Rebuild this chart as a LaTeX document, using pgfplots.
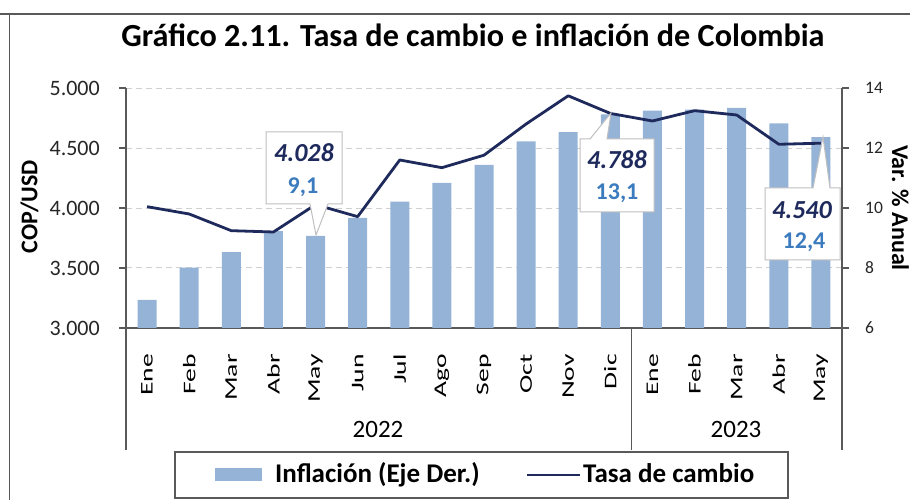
\documentclass[border=0pt]{standalone}
\usepackage{fontspec}
\setmainfont{Carlito}
\usepackage{pgfplots}
\pgfplotsset{compat=1.18}
\usepackage{graphicx}

\definecolor{barblue}{HTML}{95B3D7}
\definecolor{navy}{HTML}{1F2A5C}
\definecolor{axgray}{HTML}{595959}
\definecolor{lblblue}{HTML}{3B7BBE}
\definecolor{gridgray}{HTML}{D0D0D0}
\definecolor{boxgray}{HTML}{BFBFBF}

\newcommand{\mo}[1]{\scalebox{1.55}[1]{#1}}

\begin{document}
\begin{tikzpicture}[x=1pt,y=1pt]
\useasboundingbox (0,0) rectangle (910,500);
% frame
\draw[axgray, line width=1.5pt] (0,486) -- (910,486);
\draw[axgray, line width=1.5pt] (9.3,486) -- (9.3,0);
\node[font=\fontsize{32.2}{37}\selectfont\bfseries, anchor=base, inner sep=0pt] at (473,453) {Gráfico 2.11. Tasa de cambio e inflación de Colombia};

% bars: inflation (right axis)
\begin{axis}[
  at={(126pt,172pt)}, anchor=south west, scale only axis,
  width=716pt, height=240pt,
  xmin=-0.5, xmax=16.5, ymin=6, ymax=14,
  axis y line*=right, axis x line*=bottom,
  axis line style={axgray, line width=1.2pt},
  ytick={6,8,10,12,14},
  xtick={0,...,16},
  xticklabels={\mo{Ene},\mo{Feb},\mo{Mar},\mo{Abr},\mo{May},\mo{Jun},\mo{Jul},\mo{Ago},\mo{Sep},\mo{Oct},\mo{Nov},\mo{Dic},\mo{Ene},\mo{Feb},\mo{Mar},\mo{Abr},\mo{May}},
  xticklabel style={yshift=-19pt, rotate=90, anchor=east, inner sep=0pt, font=\fontsize{17.8}{20}\selectfont, text=black},
  xtick style={draw=none},
  ytick style={axgray, line width=1.2pt},
  tick align=outside, major tick length=7pt,
  yticklabel style={anchor=west, inner sep=0pt, xshift=16pt, font=\fontsize{17.5}{20}\selectfont, text=black!85},
  /pgf/number format/assume math mode=true,
  ymajorgrids, grid style={gridgray, dashed, line width=1pt, dash pattern=on 6pt off 4pt},
  ybar, bar width=19pt,
  clip=false,
]
\addplot[fill=barblue, draw=none] coordinates {
(0,6.94) (1,8.01) (2,8.53) (3,9.23) (4,9.07) (5,9.67) (6,10.21) (7,10.84) (8,11.44) (9,12.22) (10,12.53) (11,13.12) (12,13.25) (13,13.28) (14,13.34) (15,12.82) (16,12.36)};
\draw[axgray, line width=1.2pt] (axis cs:-0.5,6) -- ++(0pt,-122pt);
\draw[axgray, line width=1.2pt] (axis cs:11.5,6) -- ++(0pt,-122pt);
\draw[axgray, line width=1.2pt] (axis cs:16.5,6) -- ++(0pt,-122pt);
\end{axis}

% line: exchange rate (left axis)
\begin{axis}[
  at={(126pt,172pt)}, anchor=south west, scale only axis,
  width=716pt, height=240pt,
  xmin=-0.5, xmax=16.5, ymin=3000, ymax=5000,
  axis y line*=left, axis x line=none,
  axis line style={axgray, line width=1.2pt},
  ytick={3000,3500,4000,4500,5000},
  scaled y ticks=false,
  yticklabel={\pgfmathprintnumber[fixed,1000 sep={.}]{\tick}},
  ytick style={axgray, line width=1.2pt},
  tick align=outside, major tick length=7pt,
  yticklabel style={anchor=east, inner sep=0pt, xshift=-19pt, font=\fontsize{22}{26}\selectfont, text=black!85},
  /pgf/number format/assume math mode=true,
  clip=false,
]
\addplot[navy, line width=2.8pt, line join=round] coordinates {
(0,4011) (1,3950) (2,3811) (3,3800) (4,4028) (5,3928) (6,4400) (7,4336) (8,4440) (9,4700) (10,4935) (11,4788) (12,4725) (13,4811) (14,4775) (15,4531) (16,4540)};
\end{axis}

% axis titles
\node[rotate=90, font=\fontsize{24}{28}\selectfont\bfseries] at (29.5,293) {COP/USD};
\node[rotate=-90, font=\fontsize{24}{28}\selectfont\bfseries] at (900.5,292) {Var. \% Anual};

% years
\node[font=\fontsize{25}{30}\selectfont, anchor=base, inner sep=0pt] at (378,62) {2022};
\node[font=\fontsize{25}{30}\selectfont, anchor=base, inner sep=0pt] at (736,62) {2023};

% callouts
\filldraw[fill=white, draw=boxgray, line width=1pt] (266,296) -- (310,296) -- (316,265) -- (328,296) -- (342,296) -- (342,368) -- (266,368) -- cycle;
\node[font=\fontsize{26}{30}\selectfont\bfseries\itshape, text=navy] at (304,347) {4.028};
\node[font=\fontsize{24}{28}\selectfont\bfseries, text=lblblue] at (303,313) {9,1};

\filldraw[fill=white, draw=boxgray, line width=1pt] (580,288) -- (654,288) -- (654,361) -- (607,361) -- (611,387) -- (590,361) -- (580,361) -- cycle;
\node[font=\fontsize{26}{30}\selectfont\bfseries\itshape, text=navy] at (617,340) {4.788};
\node[font=\fontsize{24}{28}\selectfont\bfseries, text=lblblue] at (617,307) {13,1};

\filldraw[fill=white, draw=boxgray, line width=1pt] (765,240) -- (840,240) -- (840,312) -- (830,312) -- (823,363) -- (813,312) -- (765,312) -- cycle;
\node[font=\fontsize{26}{30}\selectfont\bfseries\itshape, text=navy] at (802,290) {4.540};
\node[font=\fontsize{24}{28}\selectfont\bfseries, text=lblblue] at (804,258) {12,4};

% legend
\draw[axgray, line width=1.2pt, fill=white] (175,2) rectangle (788,48);
\fill[barblue] (215,18.5) rectangle (262,31.5);
\node[anchor=base west, font=\fontsize{27}{32}\selectfont\bfseries, inner sep=0pt] at (275,17.3) {Inflación (Eje Der.)};
\draw[navy, line width=2.8pt] (527,25) -- (580,25);
\node[anchor=base west, font=\fontsize{27}{32}\selectfont\bfseries, inner sep=0pt] at (583,17.3) {Tasa de cambio};
\end{tikzpicture}
\end{document}
